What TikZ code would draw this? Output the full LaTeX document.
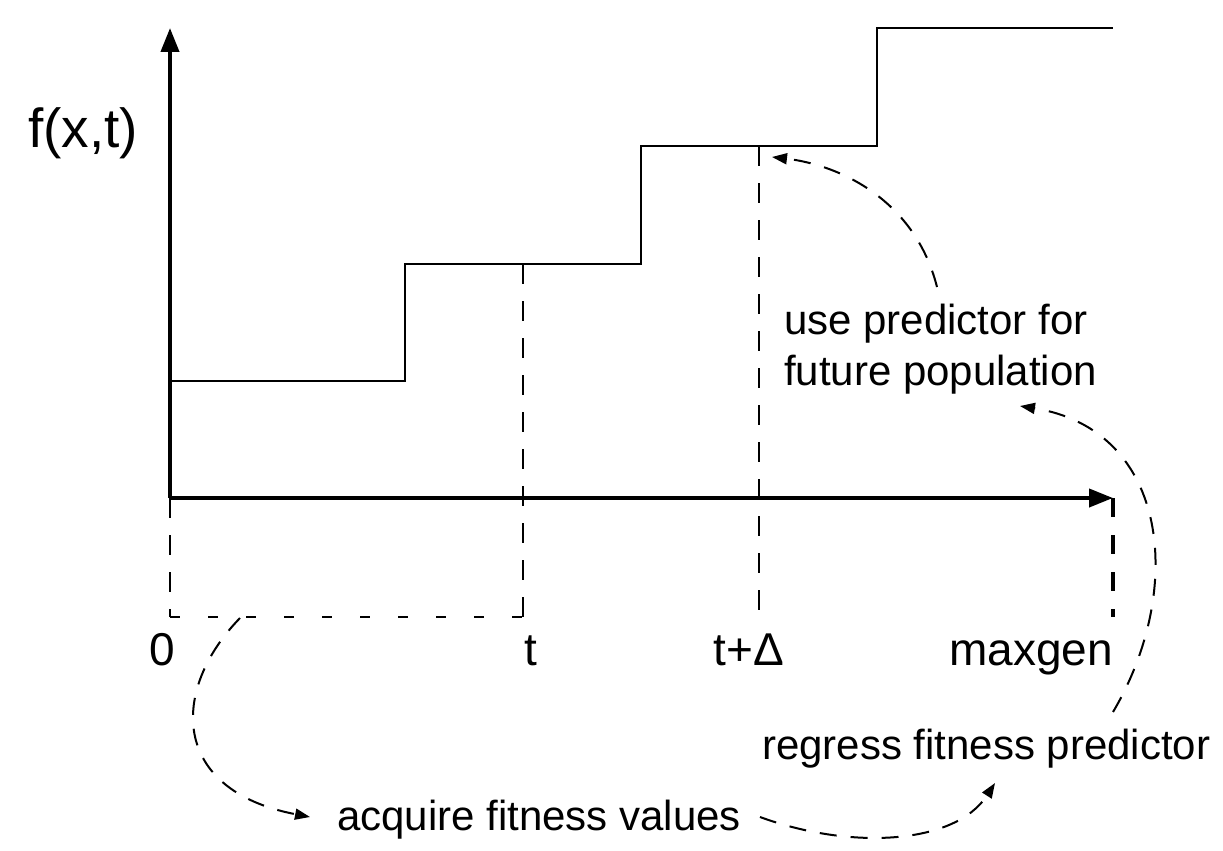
\documentclass[tikz,border=0pt]{standalone}
\usepackage{fontspec}
\setmainfont{Liberation Sans}
\usetikzlibrary{arrows.meta}
\begin{document}
\begin{tikzpicture}[x=1pt,y=-1pt,
  axis/.style={line width=4pt,-{Triangle[length=24pt,width=18pt]}},
  stepline/.style={line width=2pt},
  guide/.style={line width=2pt,dash pattern=on 20pt off 17pt},
  guidethick/.style={line width=4pt,dash pattern=on 19pt off 18pt},
  dotline/.style={line width=2pt,dash pattern=on 10pt off 28pt},
  flow/.style={line width=2pt,dash pattern=on 17pt off 14pt,-{Triangle[length=15pt,width=11pt]}},
  lbl/.style={font=\fontsize{42}{50}\selectfont,inner sep=0pt,anchor=base west},
  axlbl/.style={font=\fontsize{46}{54}\selectfont,inner sep=0pt,anchor=base}]
\useasboundingbox (0,0) rectangle (1223,851);
% structural points
\coordinate (O) at (170,498);
\coordinate (ytop) at (170,28);
\coordinate (xend) at (1113,498);
\coordinate (s0) at (170,381);
\coordinate (s1) at (405,381);
\coordinate (s2) at (405,264);
\coordinate (s3) at (641,264);
\coordinate (s4) at (641,146);
\coordinate (s5) at (877,146);
\coordinate (s6) at (877,28);
\coordinate (s7) at (1113,28);
\coordinate (tt) at (523,264);
\coordinate (td) at (759,146);
\coordinate (g0) at (170,617);
\coordinate (gt) at (523,617);
\coordinate (gtd) at (759,617);
\coordinate (gm) at (1113,617);
% axes
\draw[axis] (O) -- (ytop);
\draw[axis] (O) -- (xend);
% step function
\draw[stepline] (s0) -- (s1) -- (s2) -- (s3) -- (s4) -- (s5) -- (s6) -- (s7);
% guides
\draw[guide] (O) -- (g0);
\draw[guide] (tt) -- (gt);
\draw[guide] (td) -- (gtd);
\draw[guidethick] (xend) -- (gm);
\draw[dotline] (g0) -- (gt);
% labels
\node[axlbl,font=\fontsize{55}{60}\selectfont] (f) at (83,147) {f(x,t)};
\node[axlbl] (l0) at (162,665) {0};
\node[axlbl] (lt) at (531,665) {t};
\node[axlbl] (ltd) at (749,665) {t+Δ};
\node[axlbl] (lm) at (1031,665) {maxgen};
\node[lbl] (u1) at (784,334) {use predictor for};
\node[lbl] (u2) at (784,385) {future population};
\node[lbl] (rg) at (762,759) {regress fitness predictor};
\node[lbl] (aq) at (337,830) {acquire fitness values};
% flow curve end points
\coordinate (a1s) at (240,618);
\coordinate (a1e) at (310,817);
\coordinate (a2s) at (760,817);
\coordinate (a2e) at (995,783);
\coordinate (a3s) at (1113,712);
\coordinate (a3e) at (1020,406);
\coordinate (a4s) at (937,287);
\coordinate (a4e) at (772,157);
\draw[flow] (a1s) .. controls (170,690) and (170,790) .. (a1e);
\draw[flow] (a2s) .. controls (850,850) and (955,845) .. (a2e);
\draw[flow] (a3s) .. controls (1185,590) and (1170,430) .. (a3e);
\draw[flow] (a4s) .. controls (915,200) and (840,165) .. (a4e);
\end{tikzpicture}
\end{document}
